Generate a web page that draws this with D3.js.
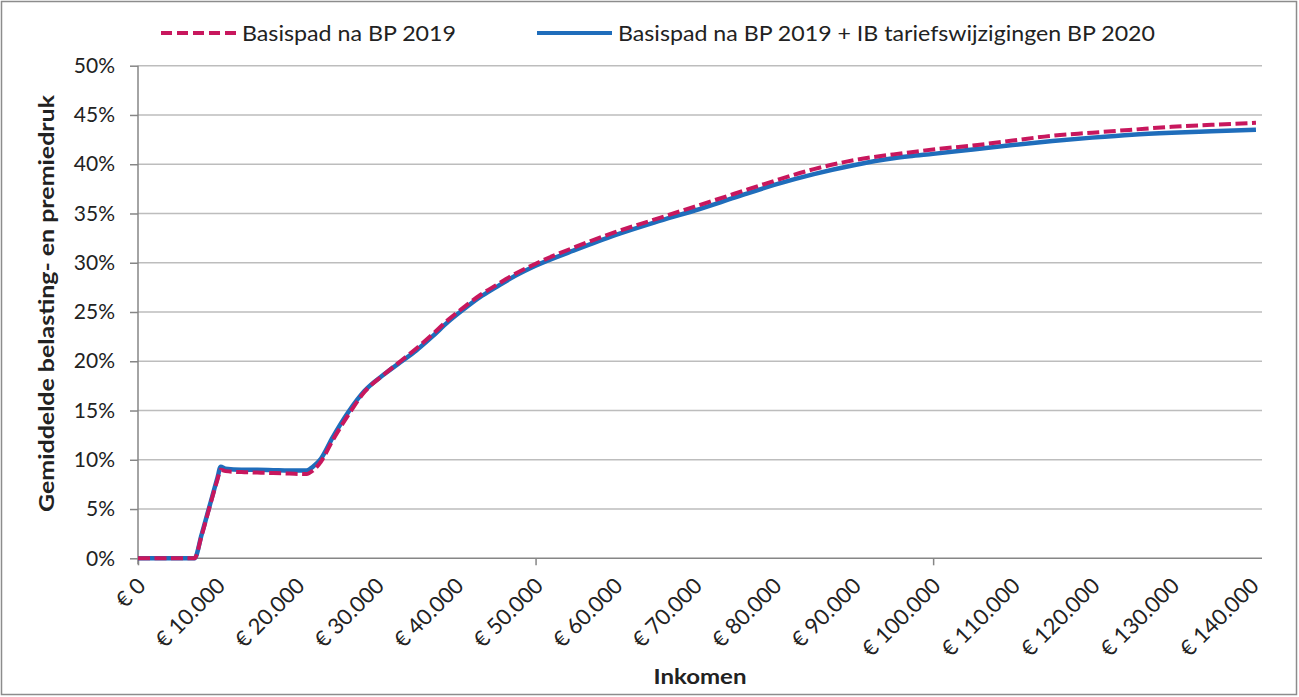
<!DOCTYPE html>
<html><head><meta charset="utf-8">
<script src="https://cdn.jsdelivr.net/npm/d3@7"></script>
<style>body{margin:0;background:#fff}svg{display:block}</style>
</head><body>
<svg id="c" width="1299" height="697"></svg>
<script>
const incomes = [0, 7100, 8000, 9000, 10000, 10400, 11000, 13000, 15000, 17000, 19000, 21200, 22000, 23000, 24500, 26500, 28500, 31000, 33000, 35000, 37000, 39000, 41000, 43000, 45000, 47500, 50000, 55000, 60000, 65000, 70000, 75000, 80000, 85000, 90000, 95000, 97000, 100000, 105000, 110000, 115000, 120000, 125000, 130000, 135000, 140600];
const basispad = [0, 0, 2.3, 5.2, 8.0, 9.0, 8.85, 8.75, 8.7, 8.65, 8.6, 8.55, 8.9, 9.8, 12.0, 14.6, 16.9, 18.7, 20.0, 21.3, 22.7, 24.2, 25.5, 26.7, 27.7, 28.9, 29.9, 31.6, 33.1, 34.4, 35.7, 37.0, 38.3, 39.5, 40.4, 41.0, 41.2, 41.5, 41.9, 42.4, 42.9, 43.2, 43.5, 43.8, 44.0, 44.2];
const basispadIB = [0, 0, 2.4, 5.3, 8.2, 9.3, 9.1, 9.0, 9.0, 8.95, 8.9, 8.9, 9.3, 10.1, 12.3, 14.9, 17.0, 18.7, 19.9, 21.1, 22.5, 24.0, 25.3, 26.5, 27.5, 28.7, 29.7, 31.3, 32.8, 34.1, 35.3, 36.6, 37.9, 39.0, 39.9, 40.6, 40.8, 41.05, 41.5, 41.95, 42.35, 42.7, 43.0, 43.2, 43.35, 43.5];
const seriesNames = ["Basispad na BP 2019", "Basispad na BP 2019 + IB tariefswijzigingen BP 2020"];
const xTickValues = [0, 10000, 20000, 30000, 40000, 50000, 60000, 70000, 80000, 90000, 100000, 110000, 120000, 130000, 140000];
const xMajorTicks = [0, 50000, 100000];
const yTickValues = [0, 5, 10, 15, 20, 25, 30, 35, 40, 45, 50];
const xTitle = "Inkomen";
const yTitle = "Gemiddelde belasting- en premiedruk";

const FONT = "Lato, 'Open Sans', sans-serif";
const svg = d3.select("#c");
const L = 138, R = 1262, T = 65.7, B = 558.3;
const x = d3.scaleLinear().domain([0, 141360]).range([L, R]);
const y = d3.scaleLinear().domain([0, 50]).range([B, T]);

// border
svg.append("rect").attr("x", 1.5).attr("y", 1.5).attr("width", 1295).attr("height", 693)
  .attr("fill", "#fff").attr("stroke", "#8c8c8c").attr("stroke-width", 1.5);

// gridlines
svg.append("g").selectAll("line").data(yTickValues.filter(d => d > 0)).join("line")
  .attr("x1", L).attr("x2", R).attr("y1", d => y(d)).attr("y2", d => y(d))
  .attr("stroke", "#bdbdbd").attr("stroke-width", 1.5);

// y axis
const yAxis = svg.append("g").attr("transform", `translate(${L},0)`)
  .call(d3.axisLeft(y).tickValues(yTickValues).tickFormat(d => d + "%").tickSize(8).tickPadding(15));
yAxis.select(".domain").attr("stroke", "#868686").attr("stroke-width", 1.5).attr("d", `M-0,${T}V${B + 6}`);
yAxis.selectAll(".tick line").attr("stroke", "#868686").attr("stroke-width", 1.5);
yAxis.selectAll(".tick text").attr("font-family", FONT).attr("font-size", 21).attr("fill", "#222");

// x axis line + major ticks
const xAxis = svg.append("g").attr("transform", `translate(0,${B})`)
  .call(d3.axisBottom(x).tickValues(xMajorTicks).tickFormat("").tickSize(7));
xAxis.select(".domain").attr("stroke", "#868686").attr("stroke-width", 1.5).attr("d", `M${L},0H${R}`);
xAxis.selectAll(".tick line").attr("stroke", "#868686").attr("stroke-width", 1.5);

// x tick labels, rotated
const fmt = d => "€ " + d3.format(",")(d).replace(/,/g, ".");
svg.append("g").selectAll("text").data(xTickValues).join("text")
  .attr("transform", d => `translate(${x(d) + 9},${B + 29}) rotate(-45)`)
  .attr("text-anchor", "end").attr("font-family", FONT).attr("font-size", 22).attr("fill", "#222")
  .text(fmt);

// lines
const line = d3.line().x((d, i) => x(incomes[i])).y(d => y(d)).curve(d3.curveMonotoneX);
svg.append("path").datum(basispadIB).attr("d", line).attr("fill", "none")
  .attr("stroke", "#1f6dbb").attr("stroke-width", 4.5).attr("stroke-linejoin", "round");
svg.append("path").datum(basispad).attr("d", line).attr("fill", "none")
  .attr("stroke", "#c8175d").attr("stroke-width", 4).attr("stroke-dasharray", "12,4.5");

// legend
const leg = [
  {name: seriesNames[0], x1: 161, x2: 236, tx: 242, tl: 214, color: "#c8175d", dash: "11,5"},
  {name: seriesNames[1], x1: 537, x2: 612, tx: 618, tl: 537, color: "#1f6dbb", dash: null}
];
const lg = svg.append("g");
leg.forEach(l => {
  lg.append("line").attr("x1", l.x1).attr("x2", l.x2).attr("y1", 33).attr("y2", 33)
    .attr("stroke", l.color).attr("stroke-width", 4).attr("stroke-dasharray", l.dash);
  lg.append("text").attr("x", l.tx).attr("y", 40.5).attr("font-family", FONT).attr("font-size", 21)
    .attr("fill", "#222").attr("textLength", l.tl).attr("lengthAdjust", "spacingAndGlyphs").text(l.name);
});

// axis titles
svg.append("text").attr("x", 700).attr("y", 684).attr("text-anchor", "middle")
  .attr("font-family", FONT).attr("font-weight", "bold").attr("font-size", 21).attr("fill", "#222")
  .attr("textLength", 93).attr("lengthAdjust", "spacingAndGlyphs").text(xTitle);
svg.append("text").attr("transform", "translate(54,303.5) rotate(-90)").attr("text-anchor", "middle")
  .attr("font-family", FONT).attr("font-weight", "bold").attr("font-size", 21).attr("fill", "#222")
  .attr("textLength", 417).attr("lengthAdjust", "spacingAndGlyphs").text(yTitle);
</script>
</body></html>
